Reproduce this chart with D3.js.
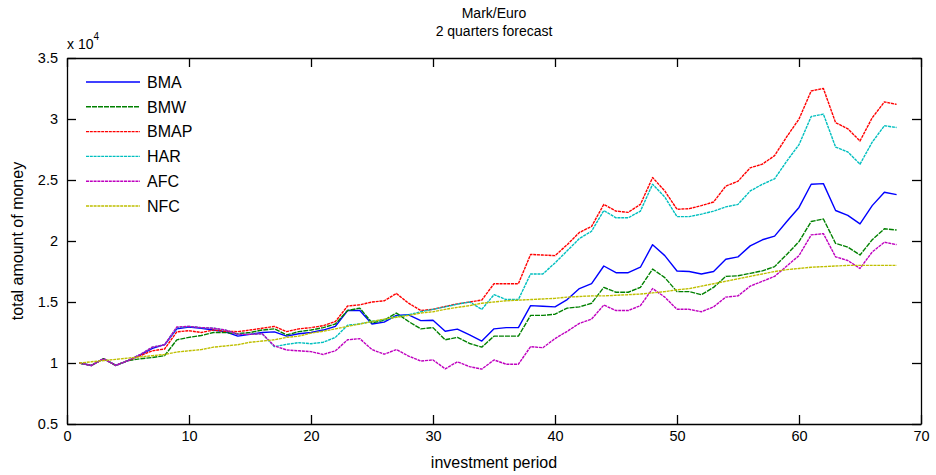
<!DOCTYPE html>
<html>
<head>
<meta charset="utf-8">
<script src="https://cdn.jsdelivr.net/npm/d3@7"></script>
<style>
  html, body { margin: 0; padding: 0; background: #fff; }
  svg { display: block; font-family: "Liberation Sans", Arial, Helvetica, sans-serif; }
</style>
</head>
<body>
<svg id="chart" width="936" height="475"></svg>
<script>
// Investment periods 1..68; amounts are in units of 10^4.
const periods = d3.range(1, 69);

const bma = [1.00,0.98,1.035,0.98,1.02,1.065,1.12,1.15,1.28,1.295,
  1.285,1.27,1.255,1.22,1.235,1.25,1.255,1.22,1.24,1.25,
  1.27,1.30,1.43,1.43,1.32,1.335,1.39,1.395,1.347,1.35,
  1.26,1.278,1.23,1.18,1.28,1.29,1.29,1.47,1.465,1.46,
  1.52,1.61,1.65,1.795,1.74,1.74,1.785,1.97,1.88,1.754,
  1.75,1.73,1.75,1.85,1.87,1.96,2.01,2.04,2.16,2.275,
  2.465,2.47,2.25,2.21,2.14,2.29,2.40,2.38];

const bmw = [1.00,0.98,1.035,0.98,1.02,1.035,1.045,1.06,1.19,1.21,
  1.225,1.25,1.25,1.24,1.25,1.27,1.28,1.23,1.257,1.27,
  1.29,1.32,1.43,1.45,1.33,1.35,1.41,1.34,1.28,1.29,
  1.19,1.21,1.16,1.13,1.22,1.22,1.22,1.39,1.39,1.40,
  1.45,1.46,1.49,1.62,1.58,1.58,1.62,1.77,1.70,1.585,
  1.585,1.56,1.62,1.71,1.715,1.735,1.755,1.79,1.89,1.995,
  2.16,2.18,1.98,1.95,1.885,2.01,2.10,2.09];

const bmap = [1.00,0.98,1.035,0.98,1.02,1.06,1.10,1.115,1.255,1.265,
  1.25,1.27,1.26,1.257,1.27,1.285,1.30,1.257,1.28,1.29,
  1.306,1.34,1.467,1.477,1.50,1.51,1.57,1.49,1.43,1.44,
  1.463,1.485,1.50,1.516,1.65,1.65,1.65,1.89,1.885,1.88,
  1.97,2.07,2.12,2.30,2.245,2.235,2.30,2.52,2.41,2.26,
  2.265,2.29,2.32,2.45,2.49,2.60,2.63,2.70,2.855,3.00,
  3.23,3.25,2.97,2.92,2.82,3.01,3.14,3.12];

const har = [1.00,0.98,1.035,0.98,1.02,1.07,1.13,1.15,1.29,1.30,
  1.29,1.285,1.27,1.235,1.235,1.24,1.134,1.153,1.167,1.158,
  1.17,1.21,1.31,1.32,1.342,1.354,1.38,1.395,1.42,1.44,
  1.46,1.482,1.50,1.44,1.56,1.52,1.52,1.73,1.73,1.82,
  1.92,2.02,2.08,2.25,2.19,2.19,2.245,2.465,2.36,2.20,
  2.20,2.22,2.245,2.28,2.30,2.41,2.465,2.51,2.655,2.79,
  3.02,3.04,2.77,2.73,2.63,2.81,2.945,2.93];

const afc = [1.00,0.98,1.035,0.98,1.02,1.07,1.13,1.15,1.295,1.30,
  1.29,1.285,1.27,1.235,1.235,1.24,1.14,1.107,1.10,1.093,
  1.07,1.10,1.19,1.20,1.11,1.072,1.11,1.057,1.016,1.025,
  0.952,1.01,0.97,0.95,1.025,0.99,0.99,1.134,1.125,1.20,
  1.26,1.325,1.36,1.475,1.43,1.43,1.47,1.61,1.54,1.44,
  1.44,1.42,1.46,1.54,1.55,1.63,1.67,1.71,1.795,1.88,
  2.05,2.06,1.87,1.84,1.775,1.91,1.99,1.97];

const nfc = [1.00,1.01,1.02,1.03,1.04,1.05,1.06,1.07,1.09,1.10,
  1.11,1.13,1.14,1.15,1.17,1.18,1.19,1.21,1.22,1.245,
  1.26,1.28,1.30,1.32,1.34,1.36,1.375,1.39,1.41,1.42,
  1.44,1.456,1.47,1.49,1.50,1.51,1.515,1.52,1.525,1.53,
  1.54,1.545,1.55,1.55,1.555,1.56,1.565,1.575,1.585,1.60,
  1.61,1.63,1.65,1.67,1.69,1.71,1.73,1.75,1.765,1.775,
  1.785,1.79,1.795,1.80,1.80,1.80,1.80,1.80];

const seriesNames = ["BMA", "BMW", "BMAP", "HAR", "AFC", "NFC"];
const seriesValues = [bma, bmw, bmap, har, afc, nfc];
const seriesColors = ["#0000ff", "#008000", "#ff0000", "#00bfbf", "#bf00bf", "#bfbf00"];
const seriesDash = [null, "5,1", "3,0.8", "3,0.8", "3,0.8", "3,0.8"];

const xTicks = [0, 10, 20, 30, 40, 50, 60, 70];
const yTicks = [0.5, 1, 1.5, 2, 2.5, 3, 3.5];

const svg = d3.select("#chart");
const plot = { left: 67, right: 921, top: 58, bottom: 424 };

const x = d3.scaleLinear().domain([0, 70]).range([plot.left, plot.right]);
const y = d3.scaleLinear().domain([0.5, 3.5]).range([plot.bottom, plot.top]);

svg.append("defs").append("clipPath").attr("id", "plot-clip")
  .append("rect")
  .attr("x", plot.left).attr("y", plot.top)
  .attr("width", plot.right - plot.left).attr("height", plot.bottom - plot.top);

// Series lines
const line = d3.line().x((d, i) => x(periods[i])).y(d => y(d));
const lines = svg.append("g").attr("clip-path", "url(#plot-clip)");
seriesValues.forEach((vals, k) => {
  lines.append("path")
    .datum(vals)
    .attr("d", line)
    .attr("fill", "none")
    .attr("stroke", seriesColors[k])
    .attr("stroke-width", 1.4)
    .attr("stroke-dasharray", seriesDash[k])
    .attr("stroke-linejoin", "round");
});

// Axes: box with inward ticks on all four sides
const fmt = d3.format("~g");
const tickLen = 9;
function styleAxis(g) {
  g.selectAll("path.domain").attr("stroke", "#000").attr("stroke-width", 1.3);
  g.selectAll(".tick line").attr("stroke", "#000").attr("stroke-width", 1.3);
  g.selectAll(".tick text").attr("fill", "#000").attr("font-size", 14.5)
    .attr("font-family", "'Liberation Sans', Arial, Helvetica, sans-serif");
}
svg.append("g").attr("transform", `translate(0,${plot.bottom})`)
  .call(d3.axisBottom(x).tickValues(xTicks).tickFormat(fmt).tickSizeInner(-tickLen).tickSizeOuter(0).tickPadding(7))
  .call(styleAxis);
svg.append("g").attr("transform", `translate(0,${plot.top})`)
  .call(d3.axisTop(x).tickValues(xTicks).tickFormat("").tickSizeInner(-tickLen).tickSizeOuter(0))
  .call(styleAxis);
svg.append("g").attr("transform", `translate(${plot.left},0)`)
  .call(d3.axisLeft(y).tickValues(yTicks).tickFormat(fmt).tickSizeInner(-tickLen).tickSizeOuter(0).tickPadding(9))
  .call(styleAxis);
svg.append("g").attr("transform", `translate(${plot.right},0)`)
  .call(d3.axisRight(y).tickValues(yTicks).tickFormat("").tickSizeInner(-tickLen).tickSizeOuter(0))
  .call(styleAxis);

// Exponent label above the y axis
const expo = svg.append("text").attr("x", plot.left).attr("y", 49)
  .attr("font-size", 14).attr("fill", "#000");
expo.append("tspan").text("x 10");
expo.append("tspan").attr("font-size", 10).attr("dy", -9).text("4");

// Titles
const cx = (plot.left + plot.right) / 2;
svg.append("text").attr("x", cx).attr("y", 18).attr("text-anchor", "middle")
  .attr("font-size", 14).text("Mark/Euro");
svg.append("text").attr("x", cx).attr("y", 36).attr("text-anchor", "middle")
  .attr("font-size", 14).text("2 quarters forecast");

svg.append("text").attr("x", cx).attr("y", 468).attr("text-anchor", "middle")
  .attr("font-size", 16).text("investment period");
svg.append("text").attr("transform", `translate(23,${(plot.top + plot.bottom) / 2}) rotate(-90)`)
  .attr("text-anchor", "middle").attr("font-size", 16).text("total amount of money");

// Legend
const legend = svg.append("g");
seriesNames.forEach((name, k) => {
  const yy = 82 + k * 24.8;
  legend.append("line")
    .attr("x1", 86).attr("x2", 140).attr("y1", yy).attr("y2", yy)
    .attr("stroke", seriesColors[k]).attr("stroke-width", 1.4)
    .attr("stroke-dasharray", seriesDash[k]);
  legend.append("text").attr("x", 147).attr("y", yy).attr("dy", "0.36em")
    .attr("font-size", 16).attr("fill", "#000").text(name);
});
</script>
</body>
</html>
